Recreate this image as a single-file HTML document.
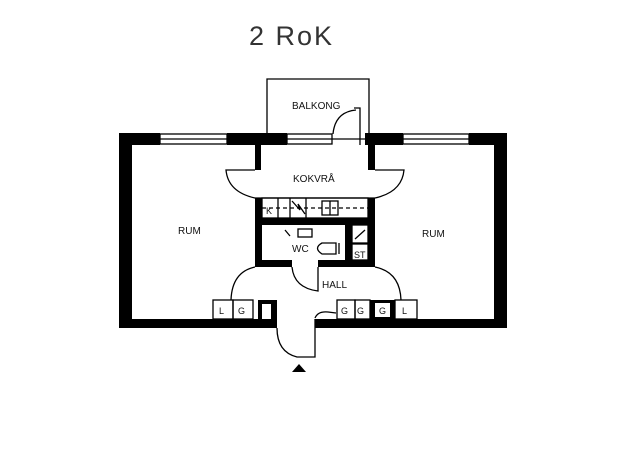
<!DOCTYPE html>
<html><head><meta charset="utf-8"><style>
html,body{margin:0;padding:0;background:#fff;}
svg{display:block}
text{font-family:"Liberation Sans",sans-serif;fill:#111;}
</style></head><body>
<svg width="625" height="460" viewBox="0 0 625 460" xmlns="http://www.w3.org/2000/svg">
<rect width="625" height="460" fill="#fff"/>
<text x="249" y="45" font-size="27" letter-spacing="2" style="fill:#333">2 RoK</text>
<g stroke="#000" stroke-width="1.3" fill="none">
<!-- balcony -->
<path d="M267 133 V79 H369 V133"/>
<!-- balcony door -->
<path d="M360 145 V108 H354"/>
<path d="M333 134 Q335 112 356 110"/>
<!-- windows -->
<rect x="160" y="134" width="67" height="10"/><line x1="160" y1="139" x2="227" y2="139"/>
<rect x="287" y="134" width="45" height="10"/><line x1="287" y1="139" x2="332" y2="139"/>
<line x1="332" y1="139" x2="365" y2="139"/>
<rect x="403" y="134" width="66" height="10"/><line x1="403" y1="139" x2="469" y2="139"/>
<!-- kokvrå bulge -->
<path d="M255 170 H226 Q228 192 255 198 H375 Q402 192 404 170 H375"/>
<!-- counter -->
<rect x="262" y="198" width="106" height="20"/>
<line x1="262" y1="208" x2="368" y2="208" stroke-dasharray="4 3"/>
<line x1="278" y1="198" x2="278" y2="218"/>
<line x1="290" y1="198" x2="290" y2="218"/>
<line x1="306" y1="198" x2="306" y2="218"/>
<rect x="322" y="201" width="16" height="14"/><line x1="330" y1="201" x2="330" y2="215"/>
<path d="M292 201 L300 210 L298 204 L305 214"/>
<!-- WC -->
<rect x="298" y="229" width="14" height="8"/>
<path d="M336 243 H322 Q313 248 322 254 H336 Z"/><line x1="339" y1="243" x2="339" y2="254"/>
<line x1="285" y1="230" x2="290" y2="236"/>
<rect x="352" y="225" width="16" height="18"/><line x1="355" y1="239" x2="365" y2="230"/>
<rect x="352" y="244" width="16" height="16"/>
<!-- WC door swing -->
<path d="M292 267 Q294 288 318 291 V267"/>
<!-- hall bulges -->
<path d="M255 267 Q232 272 231 300"/>
<path d="M375 267 Q400 272 401 300"/>
<!-- closets -->
<rect x="213" y="300" width="20" height="19"/><rect x="233" y="300" width="20" height="19"/>
<rect x="337" y="300" width="18" height="19"/><rect x="355" y="300" width="15" height="19"/>
<rect x="395" y="300" width="22" height="19"/>
<!-- entrance door -->
<path d="M277 328 Q277 352 297 357 H315 V319"/>
<path d="M315 318 Q318 311 328 312 L336 313"/>
</g>
<g fill="#000">
<!-- outer walls -->
<rect x="119" y="133" width="41" height="12"/>
<rect x="227" y="133" width="60" height="12"/>
<rect x="365" y="133" width="38" height="12"/>
<rect x="469" y="133" width="38" height="12"/>
<rect x="119" y="133" width="13" height="195"/>
<rect x="494" y="133" width="13" height="195"/>
<rect x="119" y="319" width="158" height="9"/>
<rect x="315" y="319" width="192" height="9"/>
<!-- partitions -->
<rect x="255" y="145" width="6" height="25"/>
<rect x="368" y="145" width="7" height="25"/>
<rect x="255" y="198" width="7" height="69"/>
<rect x="368" y="198" width="7" height="69"/>
<rect x="255" y="218" width="120" height="7"/>
<rect x="262" y="260" width="30" height="7"/>
<rect x="318" y="260" width="57" height="7"/>
<rect x="345" y="225" width="7" height="42"/>
<rect x="258" y="300" width="19" height="19"/>
<rect x="370" y="300" width="25" height="19"/>
<path d="M292 372 L299 364 L306 372 Z"/>
</g>
<rect x="262" y="304" width="9" height="15" fill="#fff"/>
<rect x="375" y="303" width="15" height="14" fill="#fff"/>
<g font-size="10">
<text x="292" y="109" font-size="10">BALKONG</text>
<text x="293" y="182">KOKVRÅ</text>
<text x="178" y="234">RUM</text>
<text x="422" y="237">RUM</text>
<text x="292" y="252">WC</text>
<text x="322" y="288">HALL</text>
<text x="266" y="214" font-size="9">K</text>
<text x="354" y="258" font-size="9">ST</text>
<text x="219" y="314" font-size="9">L</text>
<text x="238" y="314" font-size="9">G</text>
<text x="341" y="314" font-size="9">G</text>
<text x="357" y="314" font-size="9">G</text>
<text x="379" y="314" font-size="9">G</text>
<text x="402" y="314" font-size="9">L</text>
</g>
</svg>
</body></html>
